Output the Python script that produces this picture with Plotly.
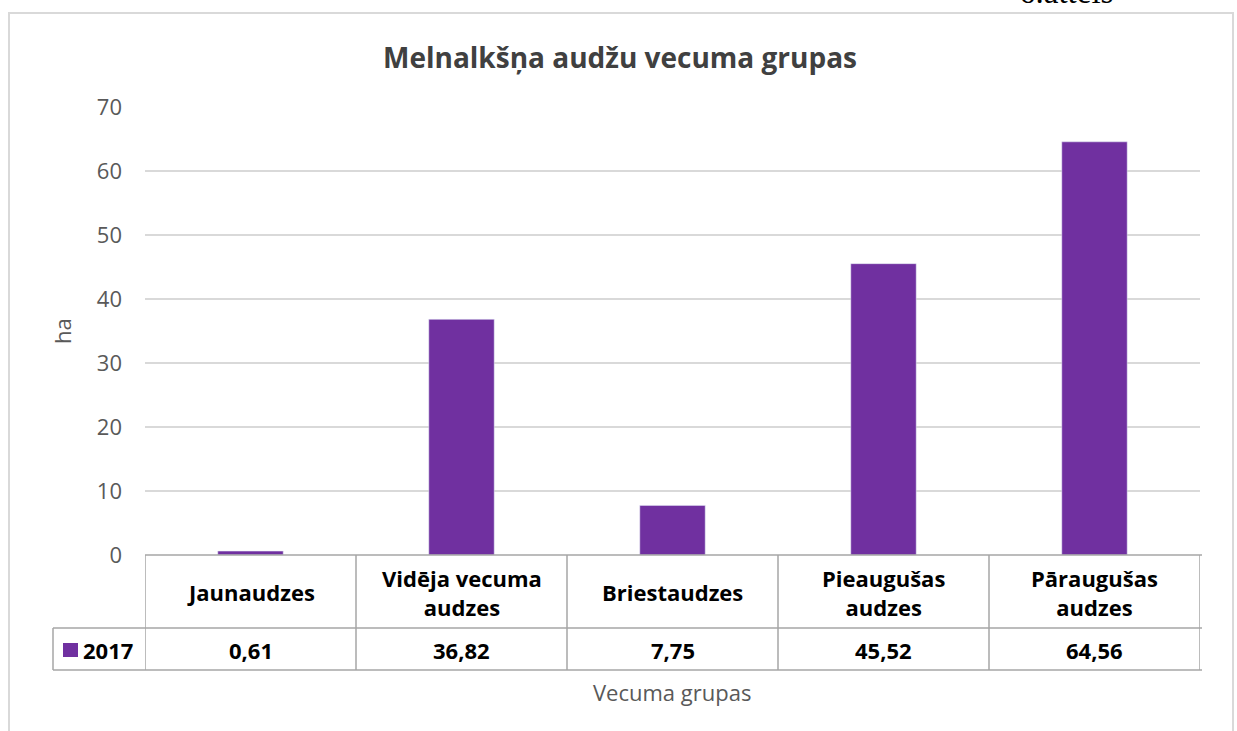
import plotly.graph_objects as go

categories = ["Jaunaudzes", "Vidēja vecuma audzes", "Briestaudzes", "Pieaugušas audzes", "Pāraugušas audzes"]
header_labels = ["Jaunaudzes", "Vidēja vecuma<br>audzes", "Briestaudzes", "Pieaugušas<br>audzes", "Pāraugušas<br>audzes"]
values_2017 = [0.61, 36.82, 7.75, 45.52, 64.56]
series_name = "2017"
y_ticks = [0, 10, 20, 30, 40, 50, 60, 70]

W, H = 1237, 731
L, R, T, B = 145, 1200, 107, 555
BAR = "#7030A0"
FONT = "Open Sans"

def py(p):  # page pixel y -> paper y
    return (B - p) / (B - T)

def px(p):  # page pixel x -> paper x
    return (p - L) / (R - L)

fig = go.Figure()
fig.add_trace(go.Bar(x=list(range(len(categories))), y=values_2017, marker_color=BAR,
                     name=series_name, showlegend=False))

shapes = []
line_col = "#a6a6a6"
n = len(categories)
# outer chart border
shapes.append(dict(type="rect", xref="paper", yref="paper", x0=px(9), x1=px(1233), y0=py(760), y1=py(13),
                   line=dict(color="#d9d9d9", width=2), layer="below"))
# table vertical lines
for i in range(n + 1):
    shapes.append(dict(type="line", xref="x", yref="paper", x0=i - 0.5, x1=i - 0.5, y0=py(555), y1=py(670),
                       line=dict(color=line_col, width=1.5)))
# table horizontal lines
shapes.append(dict(type="line", xref="paper", yref="paper", x0=0, x1=px(1202), y0=py(555), y1=py(555),
                   line=dict(color=line_col, width=1.5)))
for yy in (628, 670):
    shapes.append(dict(type="line", xref="paper", yref="paper", x0=px(53), x1=px(1202), y0=py(yy), y1=py(yy),
                       line=dict(color=line_col, width=1.5)))
shapes.append(dict(type="line", xref="paper", yref="paper", x0=px(53), x1=px(53), y0=py(628), y1=py(670),
                   line=dict(color=line_col, width=1.5)))
# legend key
shapes.append(dict(type="rect", xref="paper", yref="paper", x0=px(63), x1=px(78), y0=py(657), y1=py(643),
                   fillcolor=BAR, line=dict(width=0)))

ann = []
for i in range(n):
    ann.append(dict(x=i, y=py(592), xref="x", yref="paper", text="<b>" + header_labels[i] + "</b>",
                    showarrow=False, font=dict(family=FONT, size=22, color="#000000"), align="center",
                    yanchor="middle"))
    ann.append(dict(x=i, y=py(650), xref="x", yref="paper",
                    text="<b>" + f"{values_2017[i]:.2f}".replace(".", ",") + "</b>",
                    showarrow=False, font=dict(family=FONT, size=22, color="#000000"), yanchor="middle"))
ann.append(dict(x=px(81), y=py(650), xref="paper", yref="paper", text="<b>" + series_name + "</b>",
                showarrow=False, xanchor="left", yanchor="middle", font=dict(family=FONT, size=22, color="#000000")))
ann.append(dict(x=px(672), y=py(692), xref="paper", yref="paper", text="Vecuma grupas", showarrow=False,
                font=dict(family=FONT, size=22, color="#595959"), yanchor="middle"))
ann.append(dict(x=px(62), y=py(331), xref="paper", yref="paper", text="ha", showarrow=False, textangle=-90,
                font=dict(family=FONT, size=22, color="#595959"), xanchor="center", yanchor="middle"))
ann.append(dict(x=px(620), y=py(57), xref="paper", yref="paper", text="<b>Melnalkšņa audžu vecuma grupas</b>",
                showarrow=False, font=dict(family=FONT, size=28, color="#404040"), yanchor="middle"))
ann.append(dict(x=px(1017), y=py(12), xref="paper", yref="paper", text="6.attēls", showarrow=False,
                xanchor="left", yanchor="bottom",
                font=dict(family="Liberation Serif", size=33, color="#000000")))

fig.update_layout(
    width=W, height=H,
    margin=dict(l=L, r=W - R, t=T, b=H - B),
    plot_bgcolor="white", paper_bgcolor="white",
    bargap=0.69,
    shapes=shapes, annotations=ann,
    xaxis=dict(range=[-0.5, n - 0.5], showticklabels=False, showgrid=False, zeroline=False, fixedrange=True),
    yaxis=dict(range=[0, 70], tickvals=y_ticks, showgrid=True, gridcolor="#d9d9d9", gridwidth=1.5,
               zeroline=False, tickfont=dict(family=FONT, size=22, color="#595959"),
               ticklabelstandoff=22),
)

fig.write_html("out.html", config={"displayModeBar": False},
               post_script="document.body.style.margin='0';document.body.style.overflow='hidden';")
